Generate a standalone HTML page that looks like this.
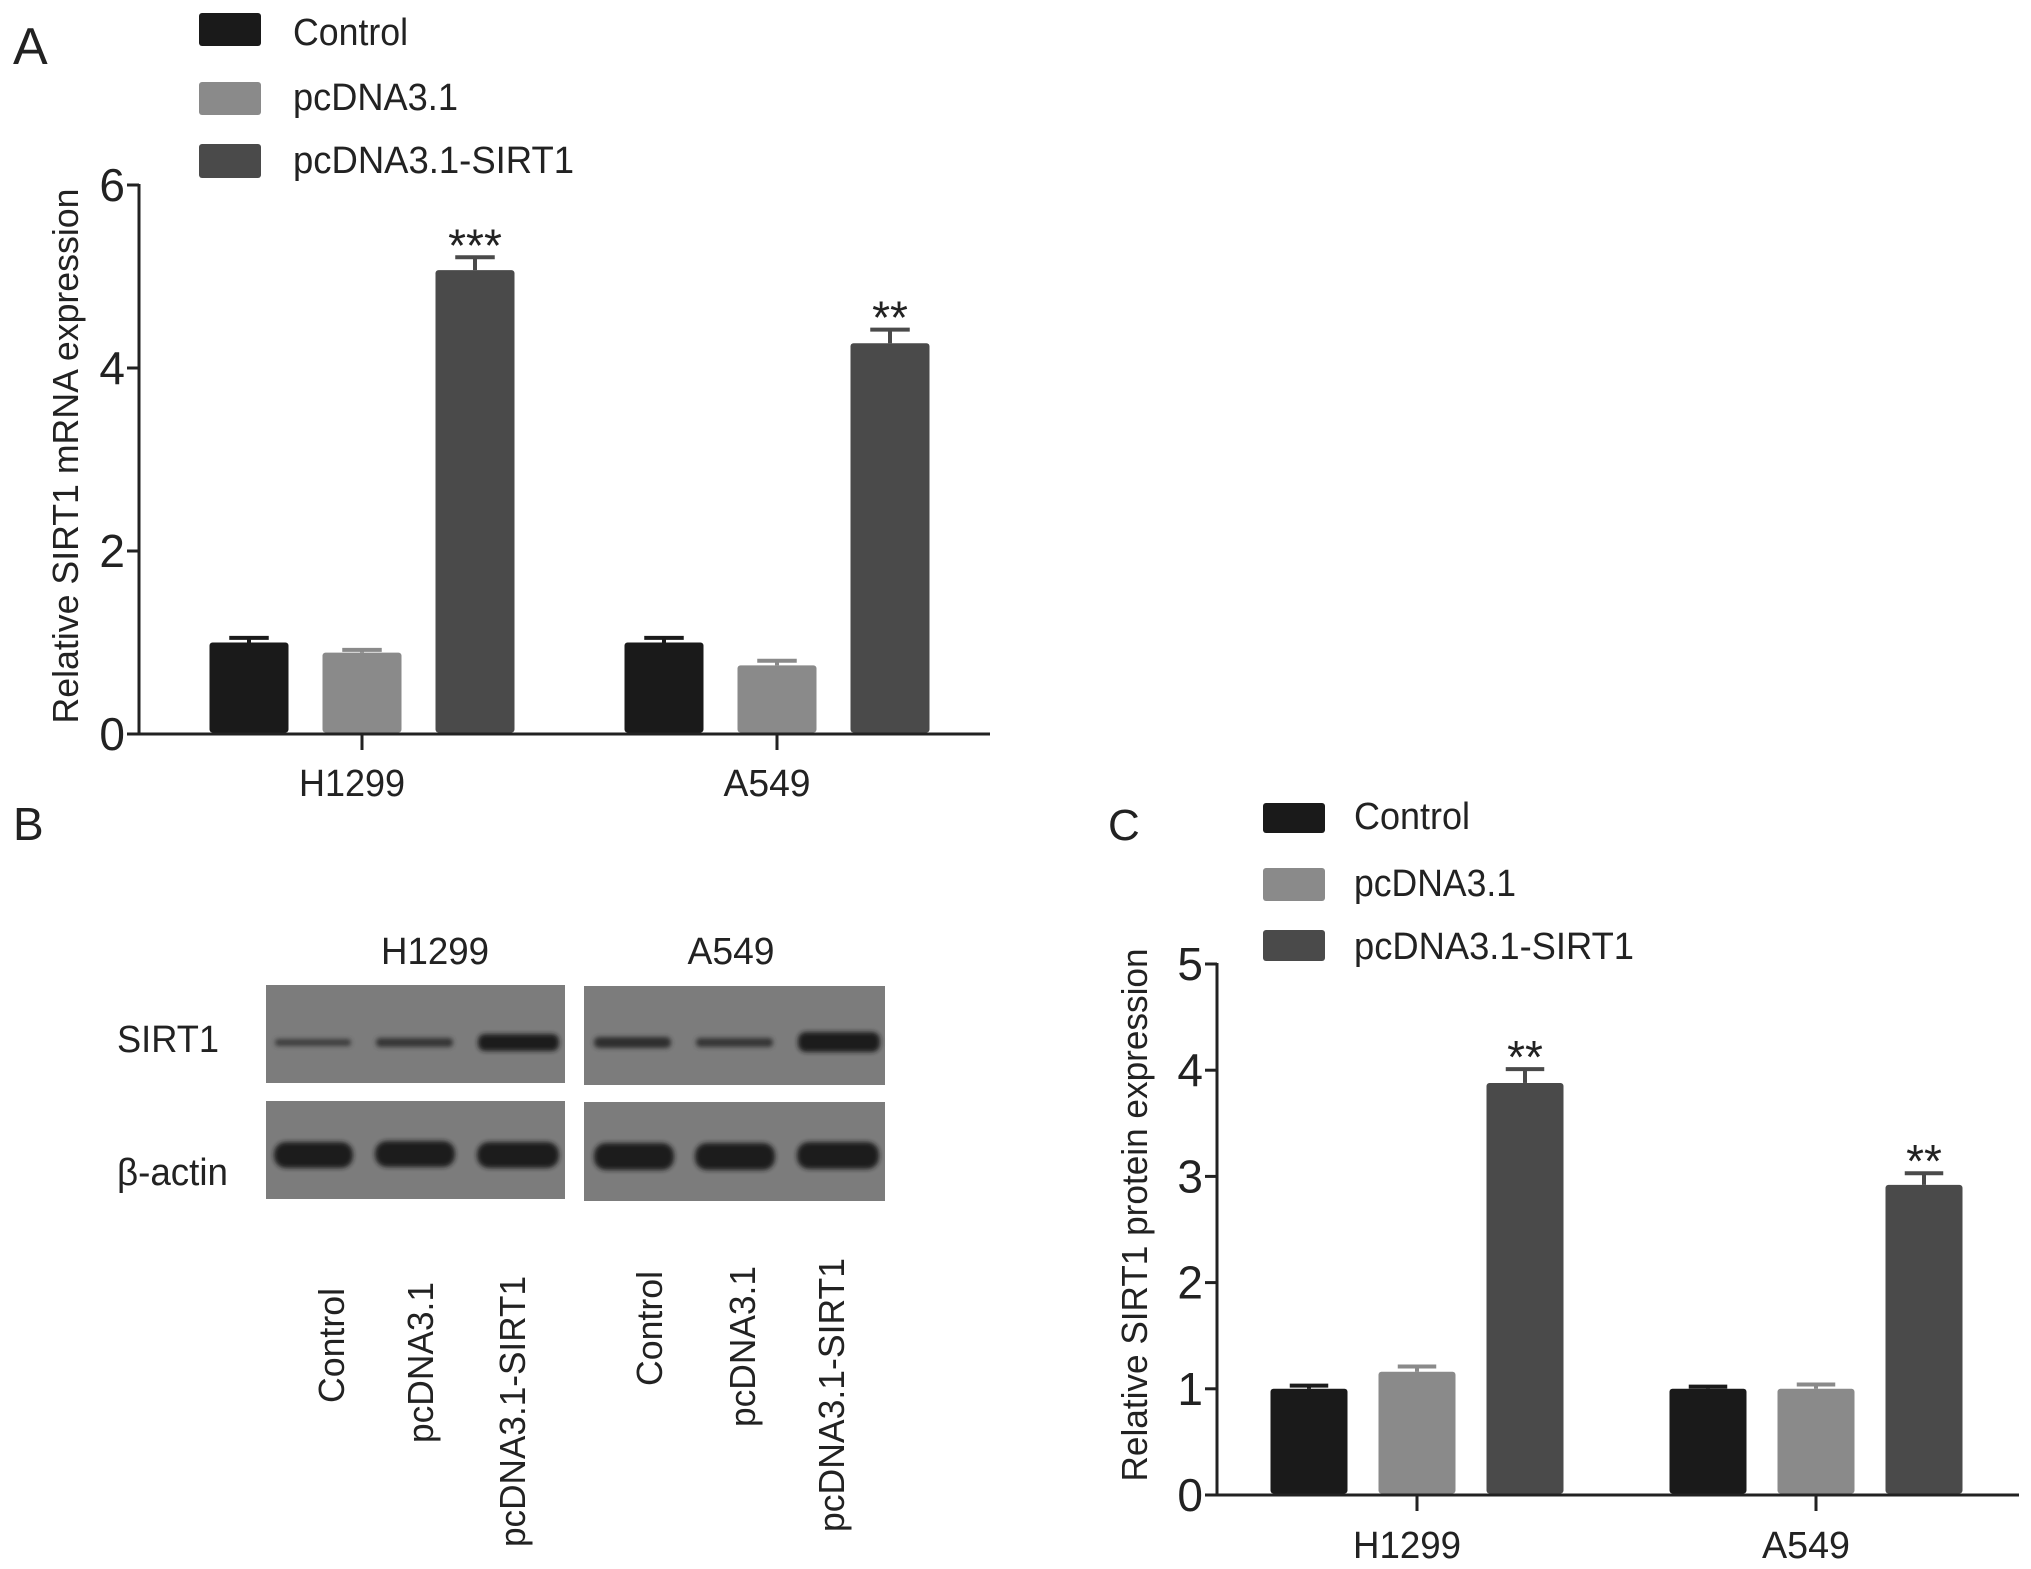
<!DOCTYPE html>
<html><head><meta charset="utf-8"><style>
html,body{margin:0;padding:0;background:#fff}
svg{display:block}
text{font-family:"Liberation Sans",Arial,sans-serif;fill:#222}
</style></head><body>
<svg id="fig" width="2031" height="1569" viewBox="0 0 2031 1569" xmlns="http://www.w3.org/2000/svg">
<text x="13" y="64" font-size="52">A</text>
<g>
<rect x="199" y="13" width="62" height="33" rx="3" fill="#1a1a1a"/>
<text x="293" y="45" font-size="38" textLength="115" lengthAdjust="spacingAndGlyphs">Control</text>
<rect x="199" y="82" width="62" height="33" rx="3" fill="#8a8a8a"/>
<text x="293" y="110" font-size="38" textLength="165" lengthAdjust="spacingAndGlyphs">pcDNA3.1</text>
<rect x="199" y="144" width="62" height="34" rx="3" fill="#4a4a4a"/>
<text x="293" y="173" font-size="38" textLength="281" lengthAdjust="spacingAndGlyphs">pcDNA3.1-SIRT1</text>
</g>
<text transform="translate(78,456) rotate(-90)" text-anchor="middle" font-size="36" textLength="535" lengthAdjust="spacingAndGlyphs">Relative SIRT1 mRNA expression</text>
<g id="chartA"></g>

<text x="13" y="840" font-size="46">B</text>
<text x="435" y="964" text-anchor="middle" font-size="38" textLength="108" lengthAdjust="spacingAndGlyphs">H1299</text>
<text x="731" y="964" text-anchor="middle" font-size="38" textLength="87" lengthAdjust="spacingAndGlyphs">A549</text>
<text x="117" y="1052" font-size="38" textLength="102" lengthAdjust="spacingAndGlyphs">SIRT1</text>
<text x="117" y="1185" font-size="38" textLength="111" lengthAdjust="spacingAndGlyphs">β-actin</text>
<defs><filter id="blur" x="-10%" y="-50%" width="120%" height="200%"><feGaussianBlur stdDeviation="2.5"/></filter></defs>
<g>
<rect x="266" y="985" width="299" height="98" fill="#7c7c7c"/>
<rect x="584" y="986" width="301" height="99" fill="#7c7c7c"/>
<rect x="266" y="1101" width="299" height="98" fill="#7c7c7c"/>
<rect x="584" y="1102" width="301" height="99" fill="#7c7c7c"/>
<g filter="url(#blur)">
<rect x="275" y="1039" width="76" height="7" rx="3" fill="#3e3e3e"/>
<rect x="376" y="1038" width="77" height="9" rx="4" fill="#363636"/>
<rect x="478" y="1034" width="81" height="17" rx="7" fill="#1e1e1e"/>
<rect x="594" y="1037" width="77" height="11" rx="5" fill="#2e2e2e"/>
<rect x="696" y="1038" width="77" height="9" rx="4" fill="#363636"/>
<rect x="798" y="1032" width="82" height="20" rx="8" fill="#1a1a1a"/>
<rect x="274" y="1142" width="79" height="26" rx="12" fill="#1e1e1e"/>
<rect x="375" y="1141" width="80" height="26" rx="12" fill="#1e1e1e"/>
<rect x="477" y="1142" width="82" height="26" rx="12" fill="#1e1e1e"/>
<rect x="594" y="1143" width="80" height="27" rx="12" fill="#1e1e1e"/>
<rect x="695" y="1143" width="80" height="27" rx="12" fill="#1e1e1e"/>
<rect x="797" y="1142" width="82" height="27" rx="12" fill="#1e1e1e"/>
</g>
</g>
<g font-size="36">
<text transform="translate(344,1288) rotate(-90)" text-anchor="end" textLength="115" lengthAdjust="spacingAndGlyphs">Control</text>
<text transform="translate(433,1282) rotate(-90)" text-anchor="end" textLength="161" lengthAdjust="spacingAndGlyphs">pcDNA3.1</text>
<text transform="translate(525,1276) rotate(-90)" text-anchor="end" textLength="271" lengthAdjust="spacingAndGlyphs">pcDNA3.1-SIRT1</text>
<text transform="translate(662,1271) rotate(-90)" text-anchor="end" textLength="115" lengthAdjust="spacingAndGlyphs">Control</text>
<text transform="translate(755,1266) rotate(-90)" text-anchor="end" textLength="161" lengthAdjust="spacingAndGlyphs">pcDNA3.1</text>
<text transform="translate(844,1258) rotate(-90)" text-anchor="end" textLength="274" lengthAdjust="spacingAndGlyphs">pcDNA3.1-SIRT1</text>
</g>

<text x="1108" y="840" font-size="44">C</text>
<g>
<rect x="1263" y="803" width="62" height="30" rx="3" fill="#1a1a1a"/>
<text x="1354" y="829" font-size="38" textLength="116" lengthAdjust="spacingAndGlyphs">Control</text>
<rect x="1263" y="868" width="62" height="33" rx="3" fill="#8a8a8a"/>
<text x="1354" y="896" font-size="38" textLength="162" lengthAdjust="spacingAndGlyphs">pcDNA3.1</text>
<rect x="1263" y="930" width="62" height="31" rx="3" fill="#4a4a4a"/>
<text x="1354" y="959" font-size="38" textLength="280" lengthAdjust="spacingAndGlyphs">pcDNA3.1-SIRT1</text>
</g>
<text transform="translate(1147,1215) rotate(-90)" text-anchor="middle" font-size="36" textLength="533" lengthAdjust="spacingAndGlyphs">Relative SIRT1 protein expression</text>
<g id="chartC"></g>
</svg>
<script>
// Panel A data
const categoriesA = ["H1299", "A549"];
const seriesNames = ["Control", "pcDNA3.1", "pcDNA3.1-SIRT1"];
const valuesA_control = [1.0, 1.0];
const valuesA_pcdna = [0.89, 0.75];
const valuesA_sirt1 = [5.07, 4.27];
const errorsA_control = [0.05, 0.05];
const errorsA_pcdna = [0.03, 0.05];
const errorsA_sirt1 = [0.14, 0.15];
const starsA = ["***", "**"];
const ticksA = [0, 2, 4, 6];
// Panel C data
const categoriesC = ["H1299", "A549"];
const valuesC_control = [1.0, 1.0];
const valuesC_pcdna = [1.16, 1.0];
const valuesC_sirt1 = [3.88, 2.92];
const errorsC_control = [0.03, 0.02];
const errorsC_pcdna = [0.05, 0.04];
const errorsC_sirt1 = [0.13, 0.11];
const starsC = ["**", "**"];
const ticksC = [0, 1, 2, 3, 4, 5];

const NS = "http://www.w3.org/2000/svg";
const colors = ["#1a1a1a", "#8a8a8a", "#4a4a4a"];
function mk(parent, tag, attrs) {
  const e = document.createElementNS(NS, tag);
  for (const k in attrs) e.setAttribute(k, attrs[k]);
  parent.appendChild(e);
  return e;
}
function drawChart(g, cfg) {
  const y = v => cfg.y0 - v / cfg.yMax * (cfg.y0 - cfg.yTop);
  const ya = mk(g, "line", {x1: cfg.ax, y1: y(cfg.yMax) - 1, x2: cfg.ax, y2: cfg.y0 + 1.5, stroke: "#222", "stroke-width": 3});
  
  
  const xa = mk(g, "line", {x1: cfg.ax - 1.5, y1: cfg.y0, x2: cfg.axEnd, y2: cfg.y0, stroke: "#222", "stroke-width": 3});
  
  
  cfg.ticks.forEach(t => {
    const tk = mk(g, "line", {x1: cfg.ax - 12, y1: y(t), x2: cfg.ax, y2: y(t), stroke: "#222", "stroke-width": 3});
    
    
    const tl = mk(g, "text", {x: cfg.ax - 14, y: y(t) + 16, "text-anchor": "end", "font-size": cfg.tickFont});
    tl.textContent = String(t);
    
    
  });
  cfg.cats.forEach((c, i) => {
    const cx = cfg.catX[i];
    const tk = mk(g, "line", {x1: cx, y1: cfg.y0, x2: cx, y2: cfg.y0 + 16, stroke: "#222", "stroke-width": 3});
    
    
    const lb = mk(g, "text", {x: cx + cfg.labelShift, y: cfg.catLabelY, "text-anchor": "middle", "font-size": 38, textLength: cfg.catLen[i], lengthAdjust: "spacingAndGlyphs"});
    lb.textContent = c;
    
    
    cfg.vals.forEach((arr, s) => {
      const bx = cx + (s - 1) * cfg.step - cfg.bw / 2;
      const v = arr[i], e = cfg.errs[s][i];
      const bcx = bx + cfg.bw / 2;
      const el = mk(g, "line", {x1: bcx, y1: y(v), x2: bcx, y2: y(v + e), stroke: colors[s], "stroke-width": 4});
      
      
      const cap = mk(g, "line", {x1: bcx - cfg.bw * 0.25, y1: y(v + e), x2: bcx + cfg.bw * 0.25, y2: y(v + e), stroke: colors[s], "stroke-width": 4});
      
      
      const r = mk(g, "rect", {x: bx, y: y(v), width: cfg.bw, height: cfg.y0 - y(v) - 1.5, rx: 3, fill: colors[s]});
      
      
      if (s === 2) {
        const st = mk(g, "text", {x: bcx, y: y(v + e) + 4, "text-anchor": "middle", "font-size": 46});
        st.textContent = cfg.stars[i];
        
        
      }
    });
  });
}
drawChart(document.getElementById("chartA"), {
  ax: 139, axEnd: 990, y0: 734, yTop: 185, yMax: 6, ticks: ticksA, tickFont: 46,
  cats: categoriesA, catX: [362, 777], catLen: [106, 87], catLabelY: 796, labelShift: -10,
  step: 113, bw: 79, stars: starsA,
  vals: [valuesA_control, valuesA_pcdna, valuesA_sirt1],
  errs: [errorsA_control, errorsA_pcdna, errorsA_sirt1]
});
drawChart(document.getElementById("chartC"), {
  ax: 1217, axEnd: 2019, y0: 1495, yTop: 964, yMax: 5, ticks: ticksC, tickFont: 46,
  cats: categoriesC, catX: [1417, 1816], catLen: [108, 88], catLabelY: 1558, labelShift: -10,
  step: 108, bw: 77, stars: starsC,
  vals: [valuesC_control, valuesC_pcdna, valuesC_sirt1],
  errs: [errorsC_control, errorsC_pcdna, errorsC_sirt1]
});
</script>
</body></html>
